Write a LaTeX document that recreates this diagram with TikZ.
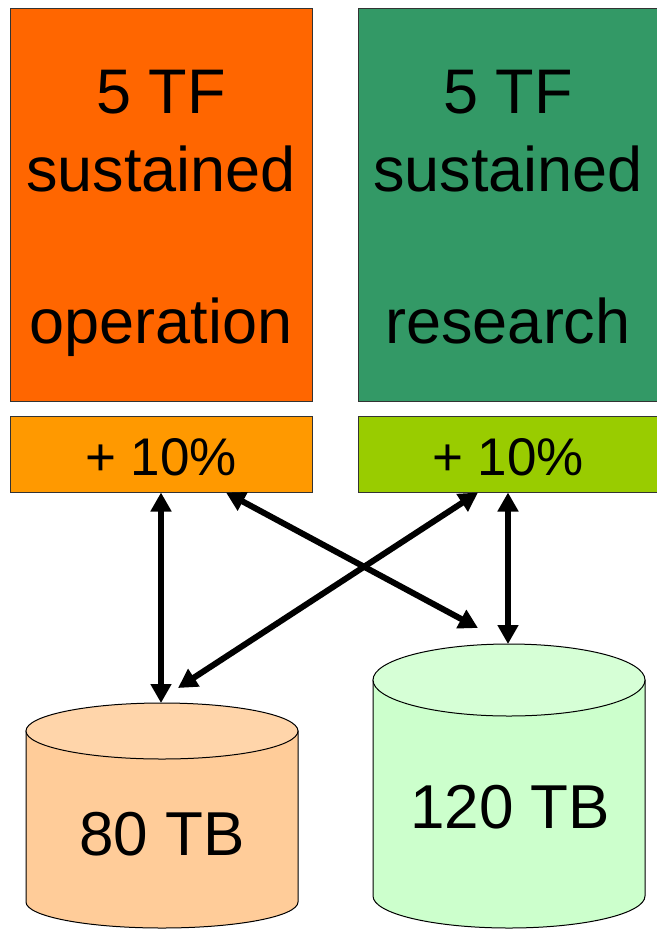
\documentclass[tikz,border=0pt]{standalone}
\usepackage{fontspec}
\setmainfont{Liberation Sans}
\usetikzlibrary{arrows.meta}

\definecolor{opfill}{HTML}{FF6600}
\definecolor{resfill}{HTML}{339966}
\definecolor{opplfill}{HTML}{FF9900}
\definecolor{resplfill}{HTML}{99CC00}
\definecolor{dbonebody}{HTML}{FFCC99}
\definecolor{dbonetop}{HTML}{FFD5AA}
\definecolor{dbtwobody}{HTML}{CCFFCC}
\definecolor{dbtwotop}{HTML}{D6FFD6}

\tikzset{
	box/.style={draw=black!80, line width=1pt, inner sep=0pt},
	big/.style={font=\fontsize{63}{78}\selectfont, align=center},
	pct/.style={font=\fontsize{53}{64}\selectfont, anchor=base},
	tb/.style={font=\fontsize{62}{74}\selectfont, anchor=base},
	link/.style={line width=5.5pt, {Triangle[length=19pt,width=20pt]}-{Triangle[length=19pt,width=20pt]}},
}

\begin{document}
\begin{tikzpicture}[x=1pt,y=-1pt]
	\useasboundingbox (0,0) rectangle (656,929);
	
	% compute boxes
	\node[box, fill=opfill, minimum width=302pt, minimum height=393pt] (op) at (161,204.5) {};
	\node[big] (optext) at (161,212.4) {\strut 5 TF\\sustained\\[74pt]operation\strut};
	\node[box, fill=resfill, minimum width=300pt, minimum height=393pt] (res) at (508,204.5) {};
	\node[big] (restext) at (508,212.4) {\strut 5 TF\\sustained\\[74pt]research\strut};
	
	\node[box, fill=opplfill, minimum width=302pt, minimum height=76pt] (opplus) at (161,454) {};
	\node[pct] (oppct) at (161,475) {+ 10\%};
	\node[box, fill=resplfill, minimum width=300pt, minimum height=76pt] (resplus) at (508,454) {};
	\node[pct] (respct) at (508,475) {+ 10\%};
	
	% storage
	\filldraw[fill=dbonebody, line width=1pt] (26,731) -- (26,902) arc[start angle=180, end angle=360, x radius=136pt, y radius=26pt] -- (298,731) -- cycle;
	\filldraw[fill=dbonetop, line width=1pt] (162,731) ellipse[x radius=136pt, y radius=28pt];
	\node[tb] (dbonetext) at (162,855) {80 TB};
	
	\filldraw[fill=dbtwobody, line width=1pt] (373,680) -- (373,896) arc[start angle=180, end angle=360, x radius=136pt, y radius=32pt] -- (645,680) -- cycle;
	\filldraw[fill=dbtwotop, line width=1pt] (509,680) ellipse[x radius=136pt, y radius=36pt];
	\node[tb] (dbtwotext) at (510,828) {120 TB};
	
	\coordinate (dbone) at (161,703);
	\coordinate (dbtwo) at (508,644);
	\coordinate (dbtwoside) at (478,628);
	\coordinate (dboneside) at (178,688);
	
	\draw[link] (opplus.south) -- (dbone);
	\draw[link] (resplus.south) -- (dbtwo);
	\draw[link, line width=6pt] ([xshift=65pt]opplus.south) -- (dbtwoside);
	\draw[link, line width=6pt] ([xshift=-30pt]resplus.south) -- (dboneside);
\end{tikzpicture}
\end{document}
